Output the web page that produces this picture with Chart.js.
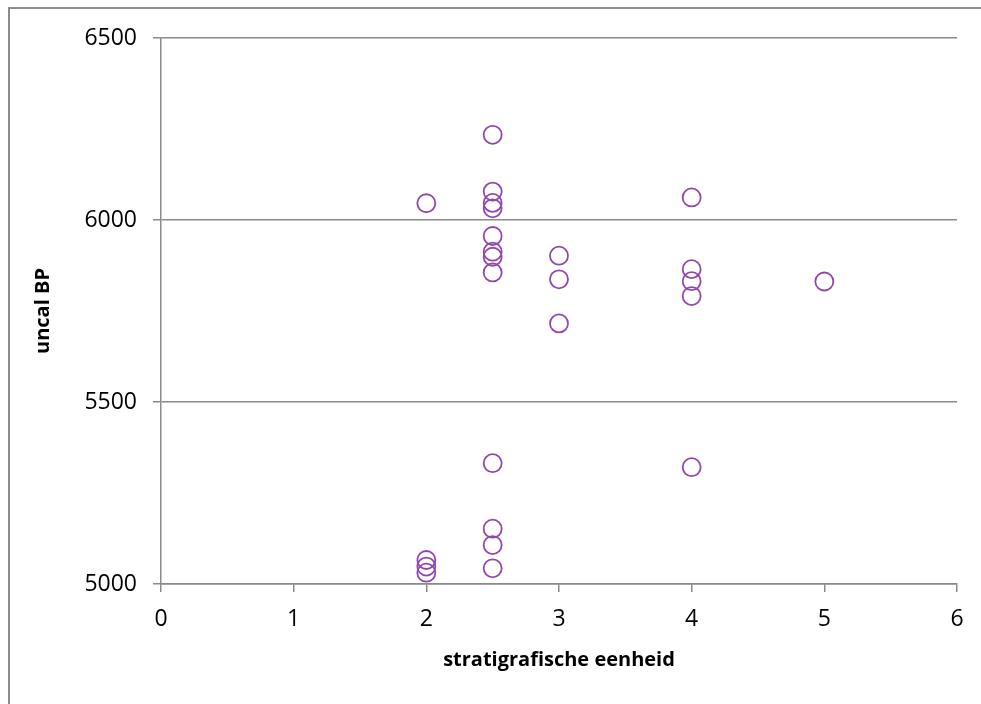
<!DOCTYPE html>
<html>
<head>
<meta charset="utf-8">
<script src="https://cdn.jsdelivr.net/npm/chart.js@4"></script>
<style>
  html, body { margin: 0; padding: 0; background: #fff; }
  #wrap { position: relative; width: 981px; height: 704px; overflow: hidden; }
  #frame { position: absolute; left: 8px; top: 7px; width: 1100px; height: 900px;
           border-left: 2px solid #8c8c8c; border-top: 2px solid #8c8c8c; }
  canvas { position: absolute; left: 0; top: 0; }
</style>
</head>
<body>
<div id="wrap">
  <div id="frame"></div>
  <canvas id="chart" width="981" height="704"></canvas>
</div>
<script>
/* ── Data ───────────────────────────────────────────────── */
const units = [2, 2, 2, 2,
               2.5, 2.5, 2.5, 2.5, 2.5, 2.5, 2.5, 2.5, 2.5, 2.5, 2.5, 2.5,
               3, 3, 3,
               4, 4, 4, 4, 4,
               5];
const ages  = [6046, 5066, 5048, 5031,
               6234, 6078, 6047, 6032, 5956, 5913, 5899, 5856, 5332, 5152, 5107, 5043,
               5902, 5837, 5716,
               6062, 5865, 5832, 5791, 5321,
               5831];
const xTicks = [0, 1, 2, 3, 4, 5, 6];
const yTicks = [5000, 5500, 6000, 6500];

const GRID = '#8a8a8a';
const FONT = "'Open Sans', sans-serif";

new Chart(document.getElementById('chart'), {
  type: 'scatter',
  data: {
    datasets: [{
      data: units.map((u, i) => ({ x: u, y: ages[i] })),
      pointRadius: 9,
      pointHoverRadius: 9,
      pointBorderWidth: 1.8,
      pointBorderColor: '#9247ad',
      pointBackgroundColor: 'rgba(0,0,0,0)',
    }],
  },
  options: {
    responsive: false,
    animation: false,
    layout: { padding: { top: 38, right: 24, left: 0, bottom: 0 } },
    plugins: { legend: { display: false }, tooltip: { enabled: false } },
    scales: {
      x: {
        type: 'linear',
        min: xTicks[0],
        max: xTicks[xTicks.length - 1],
        afterBuildTicks: s => { s.ticks = xTicks.map(v => ({ value: v })); },
        afterFit: s => { s.height = 120; },
        grid: { drawOnChartArea: false, drawTicks: true, tickLength: 8, color: GRID, lineWidth: 1.5 },
        border: { color: GRID, width: 1.5 },
        ticks: { color: '#000', font: { family: FONT, size: 23 }, padding: 14, maxRotation: 0,
                 callback: v => String(v) },
        title: {
          display: true, text: 'stratigrafische eenheid', color: '#000',
          font: { family: FONT, size: 20, weight: 'bold' },
          padding: { top: 0, bottom: 32 },
        },
      },
      y: {
        type: 'linear',
        min: yTicks[0],
        max: yTicks[yTicks.length - 1],
        afterBuildTicks: s => { s.ticks = yTicks.map(v => ({ value: v })); },
        afterFit: s => { s.width = 161; },
        grid: { drawTicks: true, tickLength: 8, color: GRID, lineWidth: 1.5 },
        border: { color: GRID, width: 1.5 },
        ticks: { color: '#000', font: { family: FONT, size: 23 }, padding: 16,
                 callback: v => String(v) },
        title: {
          display: true, text: 'uncal BP', color: '#000',
          font: { family: FONT, size: 20, weight: 'bold' },
          padding: { top: 31, bottom: 0 },
        },
      },
    },
  },
});
</script>
</body>
</html>
